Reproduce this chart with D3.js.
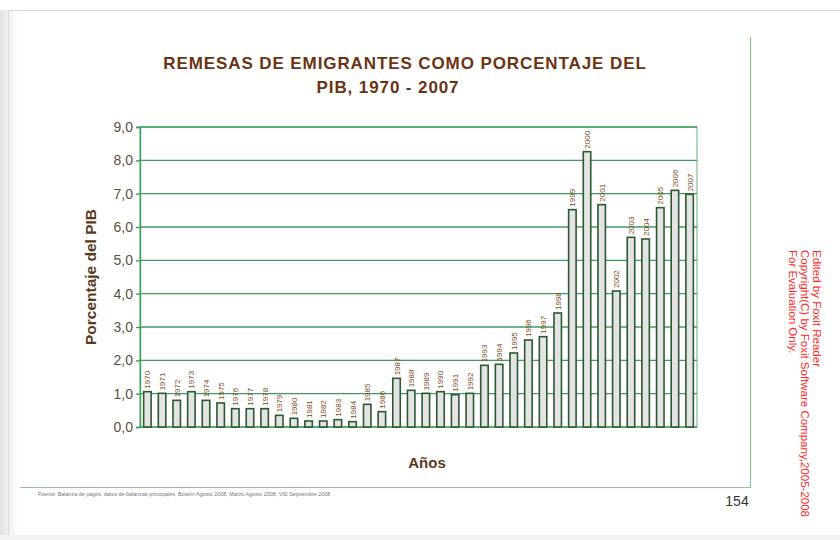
<!DOCTYPE html>
<html lang="es">
<head>
  <meta charset="UTF-8" />
  <title>Remesas de emigrantes como porcentaje del PIB, 1970 - 2007</title>
  <script src="https://d3js.org/d3.v7.min.js"></script>
  <style>
    html, body {
      margin: 0;
      padding: 0;
      background: #fff;
      overflow: hidden;
      font-family: "Liberation Sans", Arial, sans-serif;
    }
  </style>
</head>
<body>
  <div id="chart"></div>

  <script>
    // Years shown on the x axis
    const years = d3.range(1970, 2008).map(String);

    // Remittances as % of GDP
    const values = [
      1.06, 1.01, 0.80, 1.06, 0.80, 0.72, 0.55, 0.55, 0.55, 0.35,
      0.26, 0.18, 0.18, 0.22, 0.16, 0.68, 0.46, 1.46, 1.10, 1.01,
      1.06, 0.97, 1.01, 1.85, 1.88, 2.22, 2.61, 2.71, 3.42, 6.52,
      8.26, 6.67, 4.08, 5.69, 5.64, 6.58, 7.10, 6.98
    ];

    const yTicks = [0, 1, 2, 3, 4, 5, 6, 7, 8, 9];

    const titleLines = ["REMESAS DE EMIGRANTES COMO PORCENTAJE DEL", "PIB, 1970 - 2007"];

    const watermark = [
      "Edited by Foxit Reader",
      "Copyright(C) by Foxit Software Company,2005-2008",
      "For Evaluation Only."
    ];

    const width = 840, height = 540;
    const plot = { left: 140, right: 697, top: 127, bottom: 427 };

    const svg = d3.select("#chart").append("svg")
      .attr("width", width)
      .attr("height", height);

    // page edge with a soft shadow on the left
    const grad = svg.append("defs").append("linearGradient")
      .attr("id", "shade").attr("x1", 0).attr("x2", 1);
    grad.append("stop").attr("offset", 0).attr("stop-color", "#e2e2e2");
    grad.append("stop").attr("offset", 1).attr("stop-color", "#fff");
    svg.append("rect").attr("x", 0).attr("y", 10).attr("width", 18).attr("height", 530)
      .attr("fill", "url(#shade)");
    svg.append("line").attr("x1", 8).attr("x2", width).attr("y1", 10.5).attr("y2", 10.5)
      .attr("stroke", "#d4d4d4");
    svg.append("line").attr("x1", 8.5).attr("x2", 8.5).attr("y1", 10).attr("y2", height)
      .attr("stroke", "#dcdcdc");
    svg.append("rect").attr("x", 0).attr("y", 535).attr("width", width).attr("height", 5)
      .attr("fill", "#f2f2f2");

    // outer chart frame (right and bottom)
    svg.append("path")
      .attr("d", "M750.5,37 V487.5 H20")
      .attr("fill", "none")
      .attr("stroke", "#8fc49a")
      .attr("stroke-width", 1.2);

    const x = d3.scaleBand().domain(years).range([plot.left, plot.right]).paddingInner(0.49).paddingOuter(0.25);
    const y = d3.scaleLinear().domain([0, 9]).range([plot.bottom, plot.top]);

    // plot border
    svg.append("rect")
      .attr("x", plot.left).attr("y", plot.top)
      .attr("width", plot.right - plot.left).attr("height", plot.bottom - plot.top)
      .attr("fill", "none").attr("stroke", "#7cc08e").attr("stroke-width", 1.2);

    // gridlines
    svg.append("g").selectAll("line").data(yTicks).join("line")
      .attr("x1", plot.left).attr("x2", plot.right)
      .attr("y1", d => y(d)).attr("y2", d => y(d))
      .attr("stroke", "#3f9c5c").attr("stroke-width", 1.4);

    // y axis
    const yAxis = svg.append("g")
      .attr("transform", `translate(${plot.left},0)`)
      .call(d3.axisLeft(y).tickValues(yTicks).tickSize(4).tickPadding(3)
        .tickFormat(d => d3.format(".1f")(d).replace(".", ",")));
    yAxis.select(".domain").attr("stroke", "#3f9c5c").attr("stroke-width", 1.4);
    yAxis.selectAll(".tick line").attr("stroke", "#3f9c5c").attr("stroke-width", 1.4);
    yAxis.selectAll(".tick text")
      .attr("fill", "#5a5040")
      .style("font-size", "14px")
      .style("font-family", "'Liberation Sans', Arial, sans-serif");

    // bars
    svg.append("g").selectAll("rect").data(values).join("rect")
      .attr("x", (d, i) => x(years[i]))
      .attr("y", d => y(d))
      .attr("width", x.bandwidth())
      .attr("height", d => y(0) - y(d))
      .attr("fill", "#e4e4e4")
      .attr("stroke", "#2c5a30")
      .attr("stroke-width", 1.6);

    // year labels above bars
    svg.append("g").selectAll("text").data(values).join("text")
      .attr("transform", (d, i) => `translate(${x(years[i]) + x.bandwidth() / 2 + 3},${y(d) - 3}) rotate(-90)`)
      .attr("fill", "#7a4a20")
      .style("font-size", "8px")
      .text((d, i) => years[i]);

    // title
    svg.append("text")
      .attr("x", 405).attr("y", 69)
      .attr("text-anchor", "middle")
      .attr("fill", "#6a3412")
      .style("font-size", "17px").style("font-weight", "bold")
      .style("letter-spacing", "0.9px")
      .text(titleLines[0]);
    svg.append("text")
      .attr("x", 388).attr("y", 93)
      .attr("text-anchor", "middle")
      .attr("fill", "#6a3412")
      .style("font-size", "17px").style("font-weight", "bold")
      .style("letter-spacing", "0.9px")
      .text(titleLines[1]);

    // axis titles
    svg.append("text")
      .attr("transform", `translate(96,${(plot.top + plot.bottom) / 2}) rotate(-90)`)
      .attr("text-anchor", "middle")
      .attr("fill", "#5a3a1c")
      .style("font-size", "15.5px").style("font-weight", "bold")
      .text("Porcentaje del PIB");
    svg.append("text")
      .attr("x", 427).attr("y", 468)
      .attr("text-anchor", "middle")
      .attr("fill", "#5a3a1c")
      .style("font-size", "15px").style("font-weight", "bold")
      .text("Años");

    // source note
    svg.append("text")
      .attr("x", 38).attr("y", 496)
      .attr("fill", "#777")
      .style("font-size", "5.4px")
      .text("Fuente: Balanza de pagos, datos de balanzas principales, Boletín Agosto 2008, Marzo Agosto 2008, VID Septiembre 2008");

    // page number
    svg.append("text")
      .attr("x", 737).attr("y", 506)
      .attr("text-anchor", "middle")
      .attr("fill", "#333")
      .style("font-size", "14px")
      .text("154");

    // red evaluation watermark
    svg.append("g").selectAll("text").data(watermark).join("text")
      .attr("transform", (d, i) => `translate(${813 - i * 12},250) rotate(90)`)
      .attr("fill", "#ff2a2a")
      .style("font-size", "11.5px")
      .text(d => d);
  </script>
</body>
</html>
